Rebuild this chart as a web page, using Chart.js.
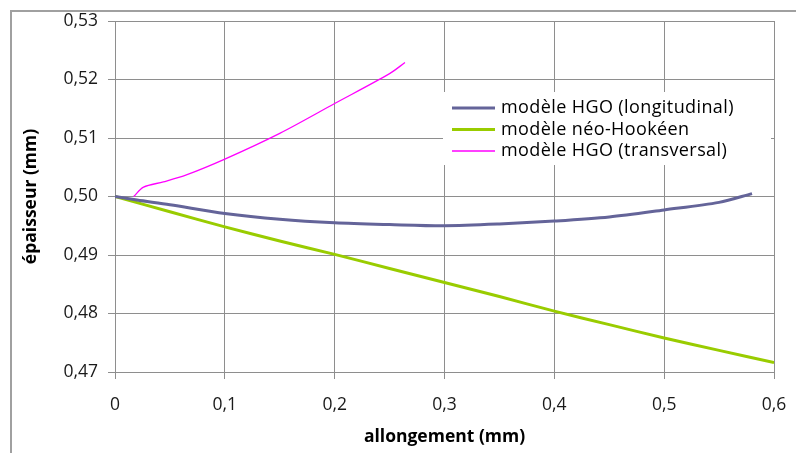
<!DOCTYPE html>
<html>
<head>
<meta charset="utf-8">
<script src="https://cdn.jsdelivr.net/npm/chart.js@4.4.1/dist/chart.umd.min.js"></script>
<style>
  html, body { margin: 0; padding: 0; background: #fff; }
  #wrap { width: 796px; height: 453px; position: relative; }
</style>
</head>
<body>
<div id="wrap"><canvas id="chart" width="796" height="453"></canvas></div>
<script>
// modèle HGO (longitudinal)
const xLong = [0, 0.02, 0.05, 0.1, 0.15, 0.2, 0.25, 0.3, 0.35, 0.4, 0.45, 0.5, 0.55, 0.58];
const yLong = [0.5, 0.4994, 0.4986, 0.4971, 0.4961, 0.4955, 0.4952, 0.4950, 0.4953, 0.4958, 0.4965, 0.4977, 0.4990, 0.5005];

// modèle néo-Hookéen
const xNeo = [0, 0.05, 0.1, 0.15, 0.2, 0.25, 0.3, 0.35, 0.4, 0.45, 0.5, 0.55, 0.6];
const yNeo = [0.5, 0.4974, 0.4948, 0.4924, 0.4901, 0.4877, 0.4853, 0.4829, 0.4804, 0.4781, 0.4758, 0.4737, 0.4716];

// modèle HGO (transversal)
const xTrans = [0.017, 0.026, 0.044, 0.065, 0.1, 0.15, 0.2, 0.25, 0.264];
const yTrans = [0.5, 0.5016, 0.5025, 0.5037, 0.5064, 0.5108, 0.5159, 0.5210, 0.5229];

const xTicks = [0, 0.1, 0.2, 0.3, 0.4, 0.5, 0.6];
const yTicks = [0.47, 0.48, 0.49, 0.50, 0.51, 0.52, 0.53];

const labels = ['modèle HGO (longitudinal)', 'modèle néo-Hookéen', 'modèle HGO (transversal)'];
const colors = ['#646499', '#99cc00', '#ff00ff'];

function pts(xs, ys) {
    return xs.map((x, i) => ({ x: x, y: ys[i] }));
}

const gridColor = '#8e8e8e';
const fontFamily = '"Open Sans", "DejaVu Sans", sans-serif';

// outer frame + legend box inside the plot
const framePlugin = {
    id: 'frame',
    beforeDraw(chart) {
        const ctx = chart.ctx;
        ctx.save();
        ctx.fillStyle = '#fff';
        ctx.fillRect(0, 0, chart.width, chart.height);
        ctx.strokeStyle = '#a0a0a0';
        ctx.lineWidth = 2;
        ctx.strokeRect(11, 11, chart.width + 20, chart.height + 20);
        ctx.restore();
    },
    afterDatasetsDraw(chart) {
        const ctx = chart.ctx;
        ctx.save();
        ctx.fillStyle = '#fff';
        ctx.fillRect(443, 92, 328, 73);
        ctx.font = '18px ' + fontFamily;
        ctx.letterSpacing = '0.4px';
        ctx.textBaseline = 'middle';
        ctx.fillStyle = '#000';
        chart.data.datasets.forEach((ds, i) => {
            const y = 108 + i * 21.5;
            ctx.strokeStyle = ds.borderColor;
            ctx.lineWidth = ds.borderWidth;
            ctx.beginPath();
            ctx.moveTo(452, y);
            ctx.lineTo(495, y);
            ctx.stroke();
            ctx.fillText(ds.label, 501, y);
        });
        ctx.restore();
    }
};

new Chart(document.getElementById('chart'), {
    type: 'line',
    data: {
        datasets: [
            { label: labels[0], data: pts(xLong, yLong), borderColor: colors[0], borderWidth: 3 },
            { label: labels[1], data: pts(xNeo, yNeo), borderColor: colors[1], borderWidth: 3 },
            { label: labels[2], data: pts(xTrans, yTrans), borderColor: colors[2], borderWidth: 1.3 }
        ]
    },
    options: {
        responsive: false,
        animation: false,
        devicePixelRatio: 1,
        layout: { padding: { left: 0, right: 22, top: 21, bottom: 0 } },
        elements: {
            point: { radius: 0 },
            line: { tension: 0.3, fill: false }
        },
        plugins: {
            legend: { display: false },
            tooltip: { enabled: false }
        },
        scales: {
            x: {
                type: 'linear',
                min: 0,
                max: 0.6,
                afterBuildTicks: (s) => { s.ticks = xTicks.map(v => ({ value: v })); },
                afterFit: (s) => { s.height = 81; s.paddingRight = 0; s.paddingLeft = 0; },
                grid: { color: gridColor, tickLength: 7, tickColor: gridColor },
                border: { color: gridColor },
                ticks: {
                    color: '#1a1a1a',
                    padding: 16,
                    maxRotation: 0,
                    font: { family: fontFamily, size: 17.5 },
                    callback: (v) => v === 0 ? '0' : v.toFixed(1).replace('.', ',')
                },
                title: {
                    display: true,
                    text: 'allongement (mm)',
                    color: '#000',
                    padding: { top: 0, bottom: 5 },
                    font: { family: fontFamily, size: 17.5, weight: 'bold' }
                }
            },
            y: {
                type: 'linear',
                min: 0.47,
                max: 0.53,
                afterBuildTicks: (s) => { s.ticks = yTicks.map(v => ({ value: v })); },
                afterFit: (s) => { s.width = 115; s.paddingTop = 0; s.paddingBottom = 0; },
                grid: { color: gridColor, tickLength: 7, tickColor: gridColor },
                border: { color: gridColor },
                ticks: {
                    color: '#1a1a1a',
                    padding: 10,
                    font: { family: fontFamily, size: 17.5 },
                    callback: (v) => v.toFixed(2).replace('.', ',')
                },
                title: {
                    display: true,
                    text: 'épaisseur (mm)',
                    color: '#000',
                    padding: { top: 21, bottom: 0 },
                    font: { family: fontFamily, size: 17.5, weight: 'bold' }
                }
            }
        }
    },
    plugins: [framePlugin]
});
</script>
</body>
</html>
